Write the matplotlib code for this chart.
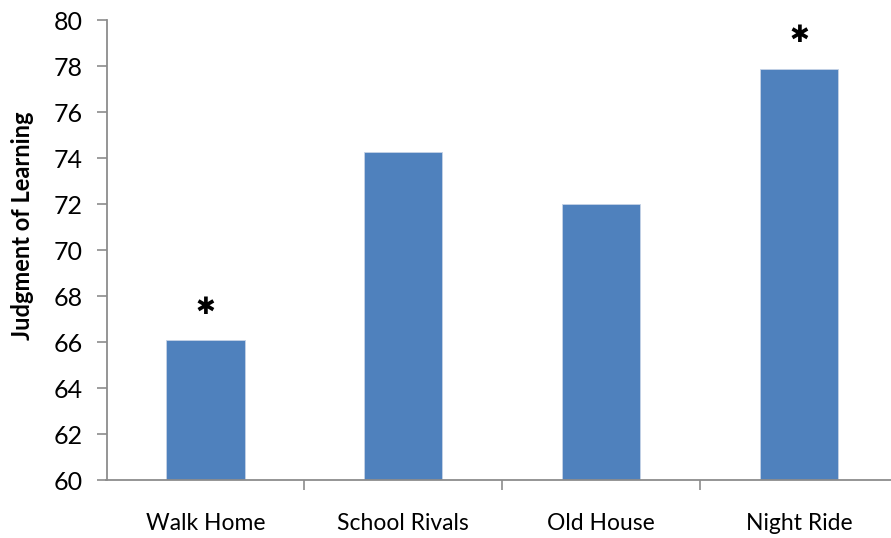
import matplotlib
matplotlib.use("Agg")
import matplotlib.pyplot as plt

# ---- data ----------------------------------------------------------------
categories = ["Walk Home", "School Rivals", "Old House", "Night Ride"]
jol = [66.07, 74.24, 71.99, 77.88]
significant = [True, False, False, True]

BAR = "#4f81bd"
AXIS = "#8c8c8c"

plt.rcParams.update({
    "font.family": ["Lato", "DejaVu Sans"],
    "font.size": 15,
})

fig = plt.figure(figsize=(8.91, 5.38), dpi=100)
# axes runs a touch past the right edge, as in the original export
ax = fig.add_axes([106.5 / 891, 58 / 538, (898 - 106.5) / 891, 460 / 538])

x = list(range(len(categories)))
bars = ax.bar(x, jol, width=0.395, color=BAR, edgecolor="#c6d3e6", linewidth=0.6)

ax.set_xlim(-0.5, len(categories) - 0.5)
ax.set_ylim(60, 80)
ax.set_yticks(range(60, 81, 2))
ax.set_xticks(x)
ax.set_xticklabels(categories, fontsize=16.5)
ax.set_xticks([i + 0.5 for i in x[:-1]], minor=True)

ax.tick_params(axis="y", direction="out", length=7, width=1.2, color=AXIS,
               labelsize=18, pad=10)
ax.tick_params(axis="x", which="major", length=0, pad=24)
ax.tick_params(axis="x", which="minor", direction="out", length=7, width=1.2,
               color=AXIS)

for side in ("top", "right"):
    ax.spines[side].set_visible(False)
for side in ("left", "bottom"):
    ax.spines[side].set_color(AXIS)
    ax.spines[side].set_linewidth(1.3)

ax.set_ylabel("Judgment of Learning", fontsize=17, fontweight="bold")
# label sits a bit above the axis middle in the original
ax.yaxis.set_label_coords(-0.092, 0.552)

for xi, v, sig in zip(x, jol, significant):
    if sig:
        ax.annotate("\u2731", (xi, v), xytext=(0, 24), textcoords="offset points",
                    ha="center", va="center", fontsize=17,
                    family=["DejaVu Sans"], color="black")

fig.savefig("out.png", dpi=100, facecolor="white")
